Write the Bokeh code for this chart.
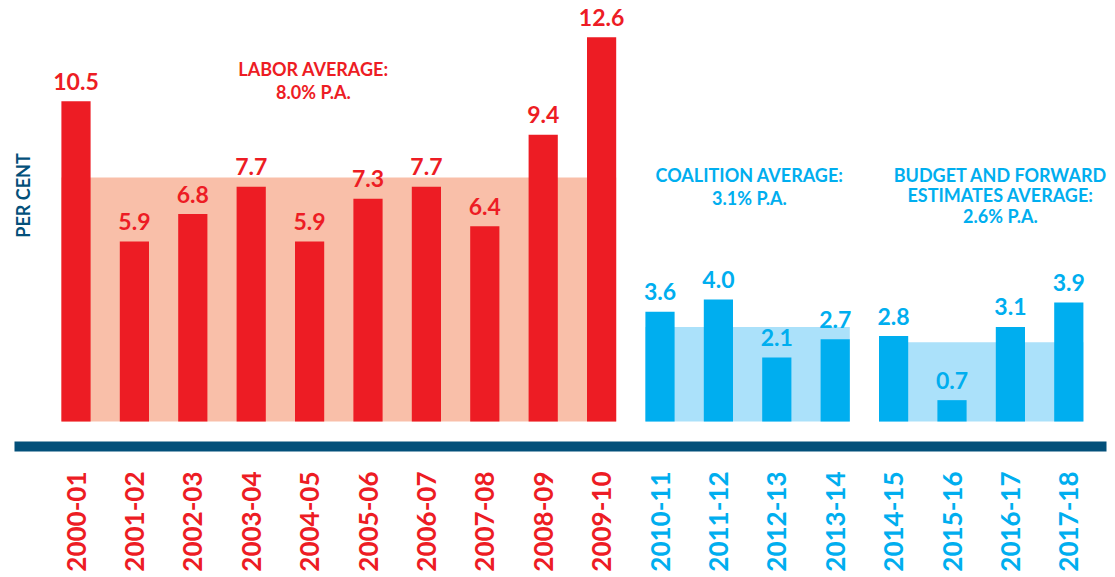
import math
from bokeh.plotting import figure
from bokeh.models import Range1d, ColumnDataSource
from bokeh.core.properties import value
from bokeh.embed import file_html
from bokeh.resources import INLINE

# ---- data ----
years = ["2000-01", "2001-02", "2002-03", "2003-04", "2004-05", "2005-06",
         "2006-07", "2007-08", "2008-09", "2009-10", "2010-11", "2011-12",
         "2012-13", "2013-14", "2014-15", "2015-16", "2016-17", "2017-18"]
growth = [10.5, 5.9, 6.8, 7.7, 5.9, 7.3, 7.7, 6.4, 9.4, 12.6,
          3.6, 4.0, 2.1, 2.7, 2.8, 0.7, 3.1, 3.9]
period = ["Labor"] * 10 + ["Coalition"] * 4 + ["Budget"] * 4

avg_names = ["Labor", "Coalition", "Budget"]
avg_values = [8.0, 3.1, 2.6]
avg_first_year = ["2000-01", "2010-11", "2014-15"]
avg_last_year = ["2009-10", "2013-14", "2017-18"]

notes_labor = ["LABOR AVERAGE:", "8.0% P.A."]
notes_coalition = ["COALITION AVERAGE:", "3.1% P.A."]
notes_budget = ["BUDGET AND FORWARD", "ESTIMATES AVERAGE:", "2.6% P.A."]

# ---- styles ----
RED = "#ED1C24"
SALMON = "#F9BFA9"
BLUE = "#00AEEF"
LIGHTBLUE = "#ABE1FA"
NAVY = "#03507A"
FONT = value("Lato")

dark = {"Labor": RED, "Coalition": BLUE, "Budget": BLUE}
light = {"Labor": SALMON, "Coalition": LIGHTBLUE, "Budget": LIGHTBLUE}

W, H = 1115, 577
PX_X = 58.4      # px per category
X0 = 75.5        # px of first category centre
PX_Y = 30.5      # px per percentage point
BASE = 421       # px of zero line from top

x_start = -X0 / PX_X
x_end = x_start + W / PX_X
y_end = BASE / PX_Y
y_start = -(H - BASE) / PX_Y

def ydata(px_from_top):
    return (BASE - px_from_top) / PX_Y

def xdata(px_from_left):
    return (px_from_left - X0) / PX_X

idx = list(range(len(years)))

p = figure(width=W, height=H, output_backend="svg", toolbar_location=None,
           x_range=Range1d(x_start, x_end), y_range=Range1d(y_start, y_end),
           x_axis_location=None, y_axis_location=None, min_border=0,
           outline_line_color=None)
p.xgrid.visible = False
p.ygrid.visible = False
p.background_fill_color = "white"
p.border_fill_color = "white"

# average bands
avg_src = ColumnDataSource(dict(
    left=[years.index(y) - 0.25 for y in avg_first_year],
    right=[years.index(y) + 0.25 for y in avg_last_year],
    top=avg_values,
    bottom=[0] * len(avg_values),
    color=[light[n] for n in avg_names],
))
p.quad(left="left", right="right", top="top", bottom="bottom",
       fill_color="color", line_color=None, source=avg_src)

# bars
bar_src = ColumnDataSource(dict(
    x=idx, top=growth, color=[dark[g] for g in period],
    label=[f"{v:.1f}" for v in growth],
    label_y=[v + 20 / PX_Y for v in growth],
    year=years,
))
p.vbar(x="x", top="top", width=0.5, bottom=0, fill_color="color",
       line_color=None, source=bar_src)

# value labels
p.text(x="x", y="label_y", text="label", text_color="color",
       text_align="center", text_baseline="middle",
       text_font=FONT, text_font_style="bold", text_font_size="23px",
       source=bar_src)

# zero line (thick navy)
p.quad(left=[xdata(14)], right=[xdata(1106)], top=[ydata(441)],
       bottom=[ydata(451)], fill_color=NAVY, line_color=None)

# year labels (rotated)
p.text(x="x", y=ydata(471), text="year", text_color="color", angle=math.pi / 2,
       text_align="right", text_baseline="middle",
       text_font=FONT, text_font_style="bold", text_font_size="26px",
       source=bar_src)

# y axis title
p.text(x=[xdata(22.5)], y=[ydata(195)], text=["PER CENT"], angle=math.pi / 2,
       text_align="center", text_baseline="middle", text_color=NAVY,
       text_font=FONT, text_font_style="bold", text_font_size="18px")

# average notes
def note(lines, xpx, centres, color):
    p.text(x=[xdata(xpx)] * len(lines), y=[ydata(c) for c in centres],
           text=lines, text_align="center", text_baseline="middle",
           text_color=color, text_font=FONT, text_font_style="bold",
           text_font_size="18px")

note(notes_labor, 313, [68, 91.5], RED)
note(notes_coalition, 749, [174, 197], BLUE)
note(notes_budget, 1000, [174, 194.5, 215.5], BLUE)

open("out.html", "w").write(file_html(p, INLINE))
